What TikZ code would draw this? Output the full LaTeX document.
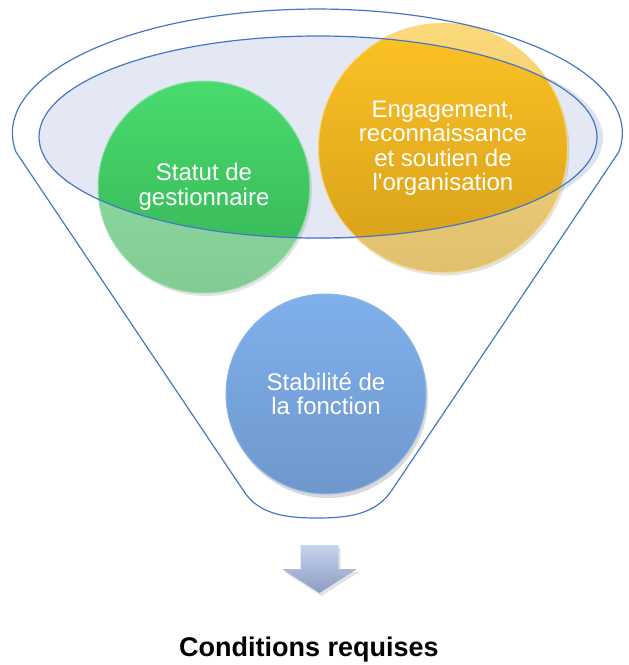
\documentclass[tikz,border=0pt]{standalone}
\usepackage{fontspec}
\setmainfont{Liberation Sans}
\usetikzlibrary{positioning, shapes.geometric, shadows}
\tikzset{
    Bubble/.style = {
        circle, inner sep=0pt, minimum size=#1,
        text=white, align=center, line width=1pt,
        font=\fontsize{24}{24.5}\selectfont
    },
    Inside/.style = {
        path picture={
            \path [clip] (rimc) ellipse [x radius=279, y radius=101];
            \shade [#1] (path picture bounding box.south west)
                rectangle (path picture bounding box.north east);
        }
    },
    Soft/.style = {
        drop shadow={opacity=0.22, shadow xshift=2pt, shadow yshift=-3pt}
    },
    Funnel/.style = {draw=rimLine, line width=1.2pt}
}
\definecolor{rimFill}{HTML}{E3E8F4}
\definecolor{rimHalo}{HTML}{D3DBEC}
\definecolor{rimLine}{HTML}{4677C6}
\definecolor{gTop}{HTML}{49DB6E}
\definecolor{gBot}{HTML}{36B256}
\definecolor{gTopF}{HTML}{93E2A8}
\definecolor{gBotF}{HTML}{82CB94}
\definecolor{gEdge}{HTML}{8FE0A6}
\definecolor{oTop}{HTML}{FDC326}
\definecolor{oBot}{HTML}{D59E19}
\definecolor{oTopF}{HTML}{FCD978}
\definecolor{oBotF}{HTML}{E0C070}
\definecolor{oEdge}{HTML}{FBD57A}
\definecolor{bTop}{HTML}{7FB0EC}
\definecolor{bBot}{HTML}{6F97CC}
\definecolor{bEdge}{HTML}{8BB6EA}
\definecolor{aTop}{HTML}{C6D4F0}
\definecolor{aBot}{HTML}{8D9BC1}

\begin{document}
\begin{tikzpicture}[x=1pt, y=-1pt]
    \useasboundingbox (0,0) rectangle (629,665);
    \coordinate (rimc) at (318,137);
    % top of the funnel
    \fill [rimFill, drop shadow={fill=rimHalo, opacity=0.8, shadow xshift=6pt, shadow yshift=-1pt}]
        (rimc) ellipse [x radius=279, y radius=101];
    \node [Bubble=212pt, top color=gTopF, bottom color=gBotF, draw=gEdge, Soft,
        Inside={top color=gTop, bottom color=gBot}] (G) at (204,187) {Statut de\\gestionnaire};
    \node [Bubble=249pt, top color=oTopF, bottom color=oBotF, draw=oEdge, Soft,
        Inside={top color=oTop, bottom color=oBot}] (O) at (443,148) {Engagement,\\reconnaissance\\et soutien de\\l\textquotesingle organisation};
    \draw [Funnel] (rimc) ellipse [x radius=279, y radius=101];
    % funnel outline
    \draw [Funnel] (16,152) arc [start angle=171.2, end angle=368.8, x radius=305, y radius=124]
        -- (392,490) .. controls (376,514) and (350,518) .. (317,518)
        .. controls (284,518) and (258,514) .. (243,490) -- cycle;
    \node [Bubble=200pt, top color=bTop, bottom color=bBot, draw=bEdge,
        drop shadow={opacity=0.3, shadow xshift=2pt, shadow yshift=-4pt}] (B) at (326,394) {Stabilité de\\la fonction};
    % result
    \shade [top color=aTop, bottom color=aBot, Soft]
        (300.5,545) -- (338.5,545) -- (338.5,569) -- (357,569) -- (319.5,593)
        -- (282,569) -- (300.5,569) -- cycle;
    \node [anchor=base, font=\bfseries\fontsize{27}{27}\selectfont] (R) at (309,656) {Conditions requises};
\end{tikzpicture}
\end{document}
